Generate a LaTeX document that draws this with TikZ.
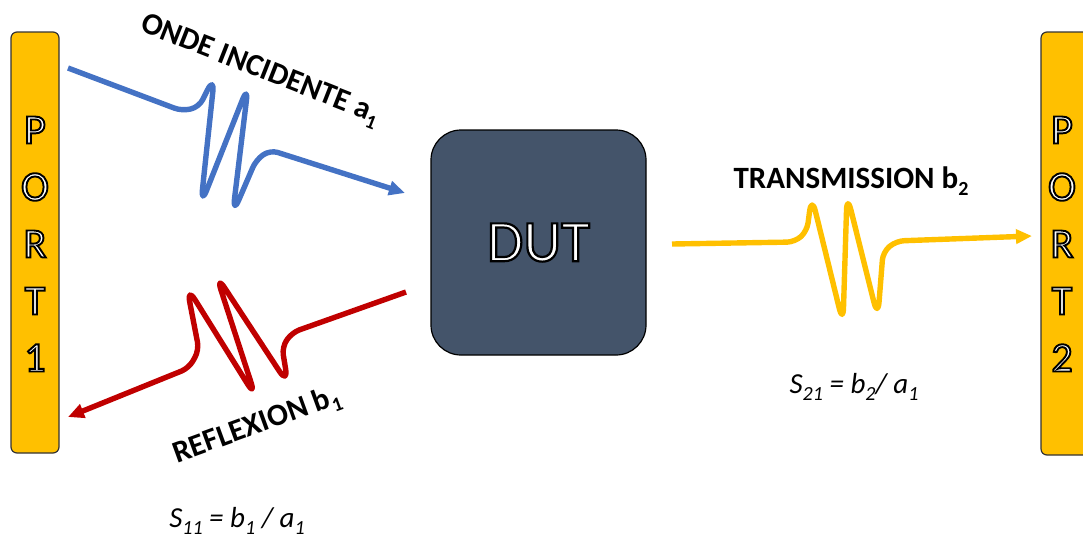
\documentclass[tikz,border=0pt]{standalone}
\usepackage{fontspec}
\setmainfont{Carlito}
\usetikzlibrary{arrows.meta}
\definecolor{portY}{HTML}{FFC000}
\definecolor{dutC}{HTML}{44546A}
\definecolor{waveB}{HTML}{4472C4}
\definecolor{waveR}{HTML}{C00000}
\newcommand\outlinetext[2][1.9]{\special{pdf:literal direct 2 Tr #1 w 0 G}#2\special{pdf:literal direct 0 Tr}}
\newcommand\lowsub[1]{\raisebox{-0.22em}{\fontsize{20}{20}\selectfont #1}}
\tikzset{
  portbox/.style={draw=black!80, line width=1.2pt, fill=portY, rounded corners=6pt, minimum width=48pt, inner sep=0pt},
  portlabel/.style={text=white, align=center, inner sep=0pt, font=\fontsize{42}{57}\selectfont},
  dutbox/.style={draw=black, line width=1.2pt, fill=dutC, rounded corners=30pt, minimum width=215pt, minimum height=225pt, text=white, font=\fontsize{59}{60}\selectfont},
  wave/.style={line width=5.4pt, line join=round, -{Triangle[length=16pt,width=14pt]}},
  wavelabel/.style={font=\bfseries\fontsize{31}{32}\selectfont, inner sep=0pt},
  formula/.style={font=\itshape\fontsize{29}{30}\selectfont, inner sep=0pt},
}
\begin{document}
\begin{tikzpicture}[x=1pt,y=-1pt]
\useasboundingbox (0,0) rectangle (1083,539);
% ports
\node[portbox, minimum height=421pt] (p1) at (35,242.5) {};
\node[portbox, minimum height=423pt] (p2) at (1065,243.5) {};
\node[portlabel] (p1t) at (35,244) {\outlinetext{P\\O\\R\\T\\1}};
\node[portlabel] (p2t) at (1062,244) {\outlinetext{P\\O\\R\\T\\2}};
% DUT
\node[dutbox] (dut) at (538.5,242.5) {\outlinetext[2.2]{DUT}};
% incident wave
\coordinate (bS) at (68,68);
\coordinate (bE) at (405,193);
\draw[wave, waveB] (bS) [rounded corners=8pt] -- (182,111) -- (199,107)
  [rounded corners=16pt] -- (214.5,75.9) -- (200.8,205) -- (248.3,85) -- (232.6,214.4)
  [rounded corners=8pt] -- (256,160) -- (270,150) -- (bE);
% reflected wave
\coordinate (rS) at (406,292);
\coordinate (rE) at (68,417);
\draw[wave, waveR] (rS) [rounded corners=8pt] -- (292,332.5) -- (282,347)
  [rounded corners=16pt] -- (288.2,384.6) -- (216,274.7) -- (255.9,397.4) -- (186.7,286.4)
  [rounded corners=8pt] -- (199,350) -- (189,368) -- (rE);
% transmitted wave
\coordinate (yS) at (672,244);
\coordinate (yE) at (1032,236);
\draw[wave, portY] (yS) [rounded corners=8pt] -- (795,242) -- (807,231)
  [rounded corners=16pt] -- (811.6,195.8) -- (843,323.6) -- (847,194.4) -- (877.8,317.7)
  [rounded corners=8pt] -- (883,252) -- (896,241) -- (yE);
% labels
\node[wavelabel, rotate=-21.5] (linc) at (260,71) {ONDE INCIDENTE a\lowsub{1}};
\node[wavelabel, rotate=20] (lref) at (257,426) {REFLEXION b\lowsub{1}};
\node[wavelabel] (ltra) at (851,181) {TRANSMISSION b\lowsub{2}};
\node[formula] (s21) at (854,387) {S\lowsub{21} = b\lowsub{2}/ a\lowsub{1}};
\node[formula] (s11) at (237,521) {S\lowsub{11} = b\lowsub{1} / a\lowsub{1}};
\end{tikzpicture}
\end{document}
